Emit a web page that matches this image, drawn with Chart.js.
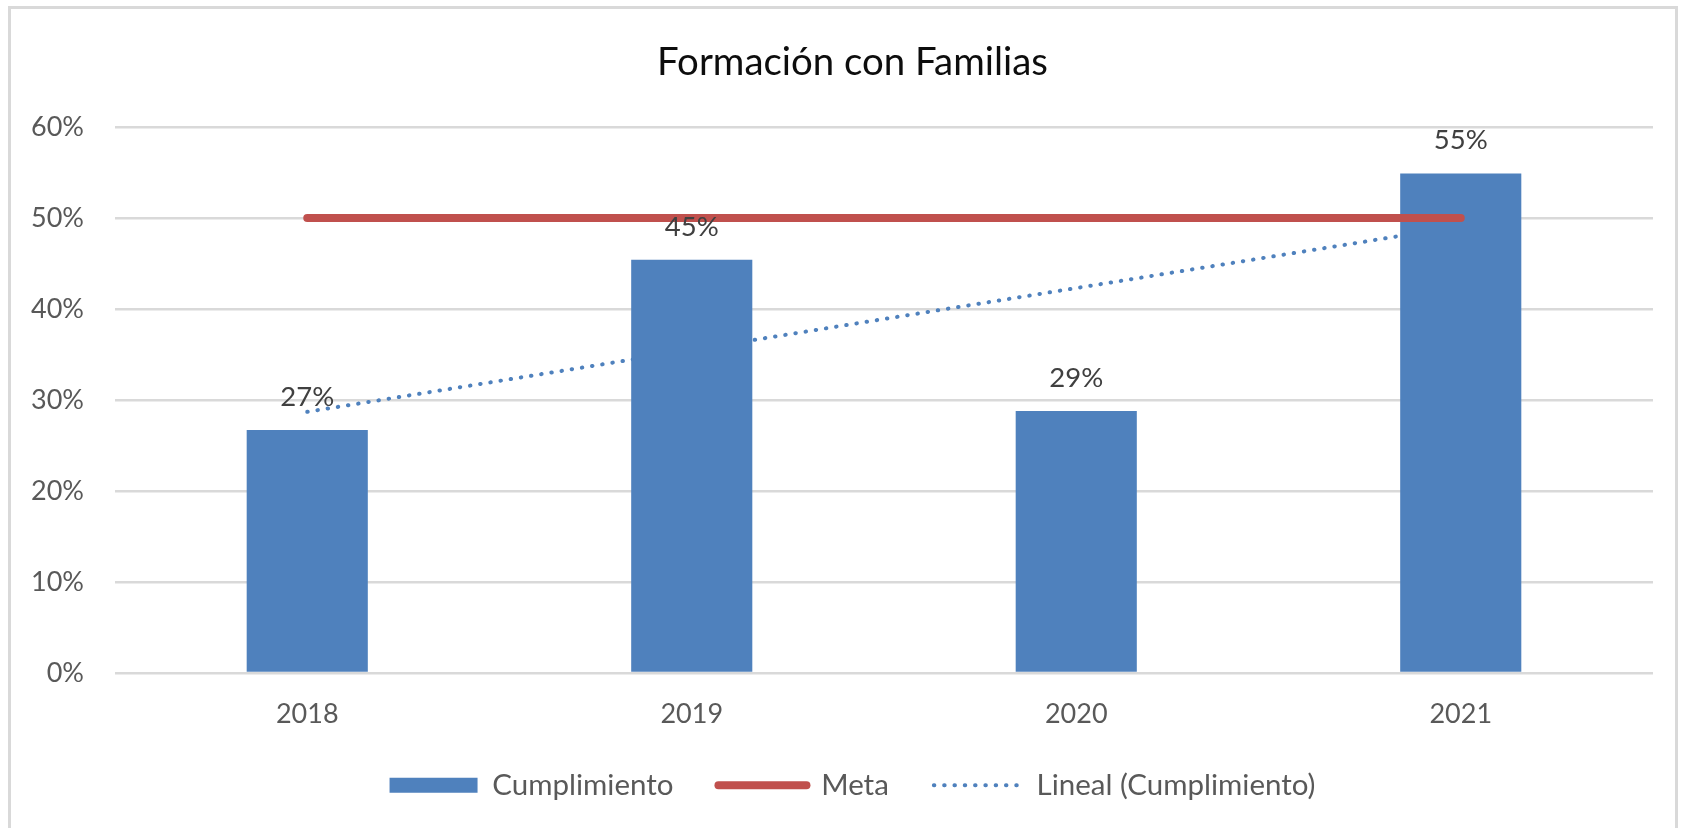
<!DOCTYPE html>
<html>
<head>
<meta charset="utf-8">
<script src="https://cdn.jsdelivr.net/npm/chart.js@4"></script>
<style>
  html, body { margin: 0; padding: 0; background: #ffffff; }
  #wrap { position: relative; width: 1692px; height: 828px; }
  canvas { display: block; }
</style>
</head>
<body>
<div id="wrap"><canvas id="c" width="1692" height="828"></canvas></div>
<script>
// ---- data ----
const categories = ['2018', '2019', '2020', '2021'];
const cumplimiento = [0.267, 0.454, 0.288, 0.549];
const meta = [0.50, 0.50, 0.50, 0.50];
const linealCumplimiento = [0.287, 0.355, 0.423, 0.491];
const yTickLabels = ['0%', '10%', '20%', '30%', '40%', '50%', '60%'];
const dataLabels = ['27%', '45%', '29%', '55%'];
const seriesNames = ['Cumplimiento', 'Meta', 'Lineal (Cumplimiento)'];
const chartTitle = 'Formación con Familias';

const BLUE = '#4F81BD';
const RED = '#C0504D';
const FONT = 'Lato';
const DOTS = [0.5, 9.8];

const borderPlugin = {
  id: 'outerBorder',
  beforeDraw(chart) {
    const ctx = chart.ctx;
    ctx.save();
    ctx.fillStyle = '#ffffff';
    ctx.fillRect(0, 0, chart.width, chart.height);
    ctx.strokeStyle = '#D9D9D9';
    ctx.lineWidth = 3;
    ctx.strokeRect(9.5, 7.5, 1667, 900);
    ctx.restore();
  }
};

const barLabelPlugin = {
  id: 'barLabels',
  afterDatasetsDraw(chart) {
    const ctx = chart.ctx;
    const metaBars = chart.getDatasetMeta(0);
    ctx.save();
    ctx.font = '27.5px ' + FONT;
    ctx.fillStyle = '#404040';
    ctx.textAlign = 'center';
    ctx.textBaseline = 'alphabetic';
    metaBars.data.forEach((el, i) => {
      ctx.fillText(dataLabels[i], el.x, el.y - 24);
    });
    ctx.restore();
  }
};

new Chart(document.getElementById('c'), {
  data: {
    labels: categories,
    datasets: [
      {
        type: 'bar',
        label: seriesNames[0],
        data: cumplimiento,
        backgroundColor: BLUE,
        borderWidth: 0,
        categoryPercentage: 1.0,
        barPercentage: 0.315,
        order: 2
      },
      {
        type: 'line',
        label: seriesNames[1],
        data: meta,
        borderColor: RED,
        backgroundColor: RED,
        borderWidth: 8,
        borderCapStyle: 'round',
        pointRadius: 0,
        fill: false,
        order: 1
      },
      {
        type: 'line',
        label: seriesNames[2],
        data: linealCumplimiento,
        borderColor: BLUE,
        backgroundColor: BLUE,
        borderWidth: 4,
        borderDash: DOTS,
        borderCapStyle: 'round',
        pointRadius: 0,
        fill: false,
        order: 3
      }
    ]
  },
  options: {
    responsive: false,
    animation: false,
    layout: { padding: { left: 13, right: 0, top: 0, bottom: 18 } },
    plugins: {
      title: {
        display: true,
        text: chartTitle,
        color: '#0D0D0D',
        font: { family: FONT, size: 38.4, weight: 'normal', lineHeight: 1.2 },
        padding: { top: 40, bottom: 40.9 }
      },
      legend: {
        display: true,
        position: 'bottom',
        labels: {
          usePointStyle: true,
          pointStyleWidth: 88,
          boxHeight: 15,
          padding: 45,
          color: '#595959',
          font: { family: FONT, size: 29.5 },
          generateLabels() {
            return [
              { text: seriesNames[0], datasetIndex: 0, pointStyle: 'rect', fillStyle: BLUE, strokeStyle: BLUE, lineWidth: 0, fontColor: '#595959' },
              { text: seriesNames[1], datasetIndex: 1, pointStyle: 'line', fillStyle: RED, strokeStyle: RED, lineWidth: 8, lineCap: 'round', fontColor: '#595959' },
              { text: seriesNames[2], datasetIndex: 2, pointStyle: 'line', fillStyle: BLUE, strokeStyle: BLUE, lineWidth: 4, lineCap: 'round', lineDash: DOTS, fontColor: '#595959' }
            ];
          }
        }
      },
      tooltip: { enabled: false }
    },
    scales: {
      x: {
        grid: { display: false, drawTicks: false },
        border: { display: false },
        ticks: { color: '#595959', font: { family: FONT, size: 27, lineHeight: 1.2 }, padding: 24.8 },
        afterFit(scale) { scale.height = 52.5; }
      },
      y: {
        min: 0,
        max: 0.6,
        grid: { color: '#D9D9D9', lineWidth: 2.5, drawTicks: false },
        border: { display: false },
        ticks: {
          stepSize: 0.1,
          padding: 31,
          color: '#595959',
          font: { family: FONT, size: 27 },
          callback(value, index) { return yTickLabels[index]; }
        },
        afterFit(scale) { scale.width = 102; }
      },
      yRight: {
        type: 'linear',
        position: 'right',
        min: 0,
        max: 0.6,
        grid: { display: false, drawTicks: false },
        border: { display: false },
        ticks: { display: false },
        afterFit(scale) { scale.width = 39; }
      }
    }
  },
  plugins: [borderPlugin, barLabelPlugin]
});
</script>
</body>
</html>
